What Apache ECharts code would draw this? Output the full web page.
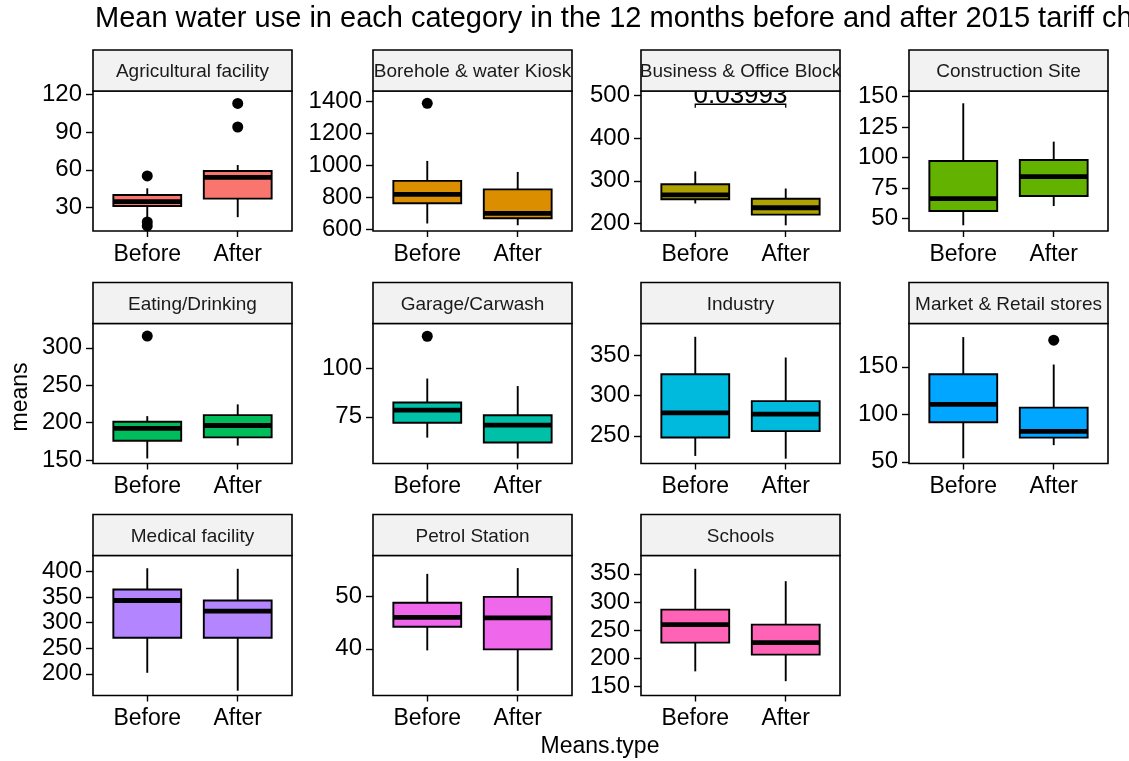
<!DOCTYPE html>
<html>
<head>
<meta charset="utf-8">
<script src="https://cdn.jsdelivr.net/npm/echarts@6/dist/echarts.min.js"></script>
<style>
  html, body { margin: 0; padding: 0; background: #ffffff; }
  #chart { width: 1129px; height: 761px; }
</style>
</head>
<body>
<div id="chart"></div>
<script>
// Facet categories (one panel each) and the two periods on every x axis
const categories = [
  'Agricultural facility', 'Borehole & water Kiosk', 'Business & Office Block', 'Construction Site',
  'Eating/Drinking', 'Garage/Carwash', 'Industry', 'Market & Retail stores',
  'Medical facility', 'Petrol Station', 'Schools'
];
const periods = ['Before', 'After'];
const fills = [
  '#F8766D', '#DB8E00', '#AEA200', '#64B200', '#00BD5C', '#00C1A7',
  '#00BADE', '#00A6FF', '#B385FF', '#EF67EB', '#FF63B6'
];

// Box summaries: [lower whisker, Q1, median, Q3, upper whisker]
const before = [
  [20, 31.3, 34.8, 40.0, 45.3],
  [636, 763, 819, 903, 1028],
  [247, 257, 267, 292, 322],
  [44.3, 56.0, 66.2, 97.1, 144.5],
  [152.3, 175.9, 192.4, 201.3, 208.8],
  [64.2, 71.9, 78.4, 82.4, 94.8],
  [225, 247.8, 278.5, 326.4, 372.8],
  [53.7, 91.6, 110.5, 142.2, 181.3],
  [202, 270.4, 343.3, 364.8, 406.4],
  [39.7, 44.2, 46.0, 48.8, 54.3],
  [176.4, 227.5, 259.5, 286.2, 358.9]
];
const after = [
  [22.4, 37.1, 54.0, 59.1, 63.8],
  [625, 669, 700, 850, 959],
  [196, 221, 237, 258, 282],
  [60.1, 68.3, 84.2, 97.9, 113],
  [169.5, 180.5, 196.3, 210.2, 224.5],
  [53.4, 61.7, 70.7, 75.8, 90.9],
  [221.6, 255.8, 276.9, 293, 347.1],
  [67.5, 75.4, 82, 107, 152.4],
  [167, 270.4, 322.5, 343.3, 405.3],
  [32.0, 39.9, 45.9, 49.9, 55.4],
  [158.9, 206.1, 227.5, 259.5, 336.9]
];
const outliersBefore = [[55.1, 18.6, 15.4], [1389], [], [], [315.6], [116.7], [], [], [], [], []];
const outliersAfter = [[112.7, 94.0], [], [], [], [], [], [], [178], [], [], []];

// Free y scales per panel
const yMin = [11.4, 589, 182.7, 39.6, 145.6, 50.8, 215.6, 48.2, 157.6, 31.1, 133.4];
const yMax = [122.6, 1466, 510, 154.6, 332.4, 123.3, 389.3, 195.6, 431.3, 57.8, 382.6];
const yTicks = [
  [30, 60, 90, 120], [600, 800, 1000, 1200, 1400], [200, 300, 400, 500], [50, 75, 100, 125, 150],
  [150, 200, 250, 300], [75, 100], [250, 300, 350], [50, 100, 150],
  [200, 250, 300, 350, 400], [40, 50], [150, 200, 250, 300, 350]
];

// Wilcoxon p-value bracket drawn in the Business & Office Block panel
const pPanel = 2;
const pLabel = '0.03993';
const pBracketY = 479;
const pTipY = 471;

// Facet layout
const colLeft = [93, 373, 641, 909];
const stripTop = [50, 282.5, 514.5];
const panelW = 199, stripH = 41, plotH = 140;
const unit = panelW / 2.2;          // one discrete x step, with 0.6 step padding each side
const FONT = 'Liberation Sans, Arial, sans-serif';

function renderBox(params, api) {
  const x = api.value(0);
  const lo = api.coord([x, api.value(1)]);
  const q1 = api.coord([x, api.value(2)]);
  const md = api.coord([x, api.value(3)]);
  const q3 = api.coord([x, api.value(4)]);
  const hi = api.coord([x, api.value(5)]);
  const w = api.size([1, 0])[0] * 0.75;
  const cx = lo[0];
  const ln = { stroke: '#000', lineWidth: 1.9 };
  return {
    type: 'group',
    children: [
      { type: 'line', shape: { x1: cx, y1: hi[1], x2: cx, y2: q3[1] }, style: ln },
      { type: 'line', shape: { x1: cx, y1: q1[1], x2: cx, y2: lo[1] }, style: ln },
      { type: 'rect', shape: { x: cx - w / 2, y: q3[1], width: w, height: q1[1] - q3[1] },
        style: { fill: api.visual('color'), stroke: '#000', lineWidth: 1.9 } },
      { type: 'line', shape: { x1: cx - w / 2, y1: md[1], x2: cx + w / 2, y2: md[1] },
        style: { stroke: '#000', lineWidth: 4.8 } }
    ]
  };
}

function renderBracket(params, api) {
  const a = api.coord([0, api.value(0)]);
  const b = api.coord([1, api.value(0)]);
  const ta = api.coord([0, api.value(1)]);
  return {
    type: 'group',
    children: [
      { type: 'polyline', shape: { points: [[a[0], ta[1]], a, b, [b[0], ta[1]]] },
        style: { stroke: '#000', lineWidth: 1.3, fill: null } },
      { type: 'text', x: (a[0] + b[0]) / 2, y: a[1] + 5,
        style: { text: pLabel, font: '26px ' + FONT, fill: '#000', align: 'center', verticalAlign: 'bottom' } }
    ]
  };
}

const grid = [], xAxis = [], yAxis = [], series = [], graphic = [];

categories.forEach((name, i) => {
  const col = i % 4, row = Math.floor(i / 4);
  const L = colLeft[col];
  const sTop = stripTop[row];
  const pTop = sTop + stripH;

  grid.push({ left: L + unit * 0.1, top: pTop, width: unit * 2, height: plotH, containLabel: false });

  xAxis.push({
    type: 'category', gridIndex: i, data: periods,
    axisLine: { show: false },
    axisTick: { show: true, alignWithLabel: true, length: 6, lineStyle: { color: '#000', width: 1.4 } },
    axisLabel: { color: '#000', fontSize: 23, fontFamily: FONT, margin: 12 },
    splitLine: { show: false }
  });
  yAxis.push({
    type: 'value', gridIndex: i, min: yMin[i], max: yMax[i], offset: unit * 0.1,
    axisLine: { show: false },
    axisTick: { show: true, length: 7, customValues: yTicks[i], lineStyle: { color: '#000', width: 1.4 } },
    axisLabel: { color: '#000', fontSize: 24, fontFamily: FONT, margin: 11, customValues: yTicks[i],
                 formatter: v => String(v) },
    splitLine: { show: false }
  });

  series.push({
    type: 'custom', xAxisIndex: i, yAxisIndex: i,
    itemStyle: { color: fills[i] },
    renderItem: renderBox,
    encode: { x: 0, y: [1, 2, 3, 4, 5] },
    data: [[0].concat(before[i]), [1].concat(after[i])],
    z: 3
  });

  const pts = outliersBefore[i].map(v => [0, v]).concat(outliersAfter[i].map(v => [1, v]));
  if (pts.length) {
    series.push({
      type: 'scatter', xAxisIndex: i, yAxisIndex: i, data: pts,
      symbol: 'circle', symbolSize: 11, clip: false,
      itemStyle: { color: '#000', opacity: 1 }, z: 4
    });
  }

  if (i === pPanel) {
    series.push({
      type: 'custom', xAxisIndex: i, yAxisIndex: i,
      renderItem: renderBracket,
      encode: { y: [0, 1] },
      data: [[pBracketY, pTipY]],
      z: 4
    });
  }

  // panel border
  graphic.push({
    type: 'rect', z: 100,
    shape: { x: L, y: pTop, width: panelW, height: plotH },
    style: { fill: 'transparent', stroke: '#000', lineWidth: 1.6 }
  });
  // strip
  graphic.push({
    type: 'rect', z: 100,
    shape: { x: L, y: sTop, width: panelW, height: stripH },
    style: { fill: '#F2F2F2', stroke: '#000', lineWidth: 1.6 }
  });
  graphic.push({
    type: 'text', z: 101, x: L + panelW / 2, y: sTop + stripH / 2 + 1.5,
    style: { text: name, font: '19px ' + FONT, fill: '#1A1A1A', align: 'center', verticalAlign: 'middle' }
  });
  // keep long strip labels inside their strip
  graphic.push({ type: 'rect', z: 102, shape: { x: L - 10, y: sTop - 1, width: 9, height: stripH - 2 }, style: { fill: '#fff' } });
  graphic.push({ type: 'rect', z: 102, shape: { x: L + panelW + 1, y: sTop - 1, width: 9, height: stripH - 2 }, style: { fill: '#fff' } });
});

graphic.push({
  type: 'text', z: 110, x: 95, y: 19,
  style: { text: 'Mean water use in each category in the 12 months before and after 2015 tariff change',
           font: '29px ' + FONT, fill: '#000', align: 'left', verticalAlign: 'middle' }
});
graphic.push({
  type: 'text', z: 110, x: 600, y: 747,
  style: { text: 'Means.type', font: '23px ' + FONT, fill: '#000', align: 'center', verticalAlign: 'middle' }
});
graphic.push({
  type: 'text', z: 110, x: 21, y: 397, rotation: Math.PI / 2,
  style: { text: 'means', font: '23px ' + FONT, fill: '#000', align: 'center', verticalAlign: 'middle' }
});

const chart = echarts.init(document.getElementById('chart'), null, { renderer: 'canvas' });
chart.setOption({
  backgroundColor: '#ffffff',
  animation: false,
  grid, xAxis, yAxis, series, graphic
});
</script>
</body>
</html>
